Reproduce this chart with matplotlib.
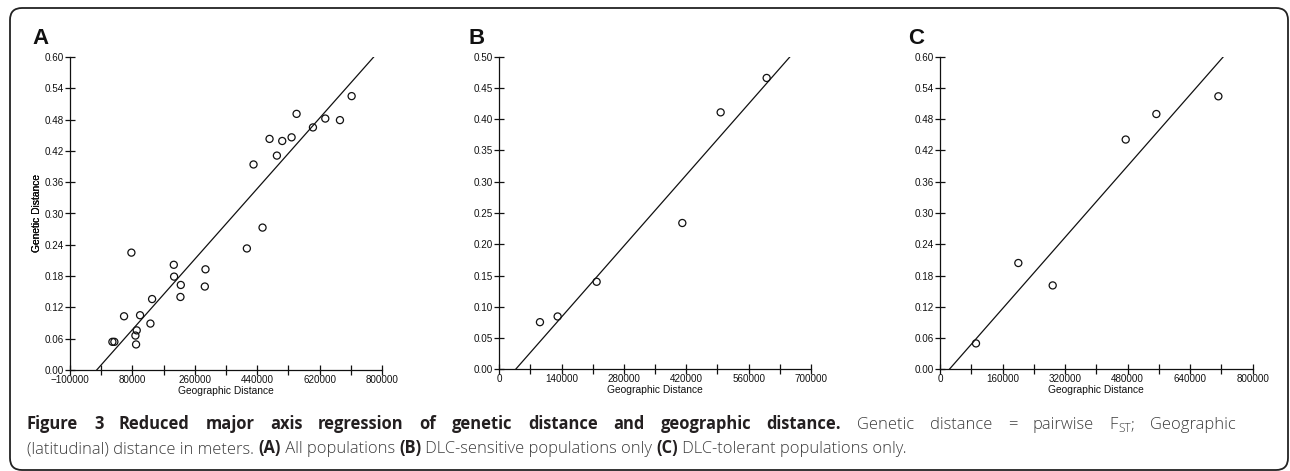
import matplotlib
matplotlib.use("Agg")
import matplotlib.pyplot as plt
from matplotlib.patches import FancyBboxPatch
from matplotlib.ticker import FixedLocator, FormatStrFormatter, FuncFormatter, MultipleLocator
import numpy as np

# ---------------- data ----------------
# Panel A: all populations
a_geo = [429400, 475600, 496800, 512200, 539200, 553600, 600800, 636400, 678700, 712400,
         455400, 410200, 77100, 199400, 200300, 219600, 218600, 290800, 288900, 136800,
         55900, 102100, 132000, 92500, 88700, 90600, 22300, 28000]
a_gen = [0.394, 0.443, 0.411, 0.439, 0.446, 0.491, 0.465, 0.482, 0.479, 0.525,
         0.273, 0.233, 0.225, 0.2017, 0.179, 0.163, 0.140, 0.193, 0.160, 0.136,
         0.103, 0.105, 0.089, 0.076, 0.066, 0.049, 0.054, 0.054]
# Panel B: DLC-sensitive
b_geo = [600400, 497100, 411000, 218600, 131000, 91300]
b_gen = [0.466, 0.411, 0.234, 0.140, 0.0845, 0.0754]
# Panel C: DLC-tolerant
c_geo = [712200, 553500, 475100, 200400, 288300, 92100]
c_gen = [0.524, 0.490, 0.441, 0.204, 0.161, 0.0497]

# RMA regression lines (slope, intercept)
rma_slope = [7.509e-7, 8.114e-7, 8.558e-7]
rma_intercept = [0.01727, -0.02978, -0.02045]

panel_letters = ["A", "B", "C"]
x_limits = [(-100000, 800000), (0, 700000), (0, 800000)]
x_label_step = [180000, 140000, 160000]
y_limits = [(0, 0.60), (0, 0.50), (0, 0.60)]
y_step = [0.06, 0.05, 0.06]
x_label = "Geographic Distance"
y_label = "Genetic Distance"

caption_line1_bold = "Figure 3 Reduced major axis regression of genetic distance and geographic distance."
caption_line1_rest = ["Genetic", "distance", "=", "pairwise", "F_ST;", "Geographic"]
caption_line2 = [("(latitudinal) distance in meters. ", "light"),
                 ("(A)", "bold"),
                 (" All populations ", "light"),
                 ("(B)", "bold"),
                 (" DLC-sensitive populations only ", "light"),
                 ("(C)", "bold"),
                 (" DLC-tolerant populations only.", "light")]

# ---------------- figure ----------------
W, H = 1290, 471
fig = plt.figure(figsize=(W / 100, H / 100), dpi=100)
plt.rcParams['font.family'] = ['Liberation Sans', 'DejaVu Sans']

# border
border = FancyBboxPatch((10 / 100, 1 / 100), 1278 / 100, 462 / 100,
                        boxstyle="round,pad=0,rounding_size=0.12",
                        transform=fig.dpi_scale_trans, fill=False,
                        edgecolor="#222222", linewidth=1.3, clip_on=False)
fig.patches.append(border)

# axes rectangles in pixels: left, right, top, bottom
rects = [(70, 382, 57, 370), (499.3, 811, 56.7, 369.3), (940, 1252.7, 56.7, 369.3)]
datasets = [(a_geo, a_gen), (b_geo, b_gen), (c_geo, c_gen)]
letter_x = [32, 469, 908]


def xfmt(v, p):
    v = int(round(v))
    return str(v) if v >= 0 else "\u2212" + str(-v)


tick_fs = 7.1
for i in range(3):
    l, r, t, b = rects[i]
    ax = fig.add_axes([l / W, (H - b) / H, (r - l) / W, (b - t) / H])
    gx, gy = datasets[i]
    ax.scatter(gx, gy, s=26, facecolors="none", edgecolors="#111111", linewidths=0.9, zorder=3)
    ymax = y_limits[i][1]
    m, c0 = rma_slope[i], rma_intercept[i]
    xs = np.array([(0 - c0) / m, (ymax - c0) / m])
    ax.plot(xs, m * xs + c0, color="#111111", linewidth=0.9)
    x0, x1 = x_limits[i]
    ax.set_xlim(x0, x1)
    ax.set_ylim(*y_limits[i])
    for s in ["top", "right"]:
        ax.spines[s].set_visible(False)
    for s in ["left", "bottom"]:
        ax.spines[s].set_linewidth(0.9)
        ax.spines[s].set_color("#111111")
    step = x_label_step[i]
    ax.xaxis.set_major_locator(FixedLocator(np.arange(x0, x1 + 1, step)))
    ax.xaxis.set_minor_locator(FixedLocator(np.arange(x0 + step / 2, x1, step)))
    ax.yaxis.set_major_locator(MultipleLocator(y_step[i]))
    ax.xaxis.set_major_formatter(FuncFormatter(xfmt))
    ax.yaxis.set_major_formatter(FormatStrFormatter("%.2f"))
    ax.tick_params(axis="both", which="both", direction="inout", length=6.5, width=0.9,
                   color="#111111", labelsize=tick_fs, labelcolor="#111111")
    ax.tick_params(axis="x", which="major", pad=0.0)
    ax.tick_params(axis="y", which="major", pad=1.2)
    ax.set_xlabel(x_label, fontsize=tick_fs + 0.3, labelpad=1.0, color="#111111")
    ax.set_ylabel(y_label, fontsize=tick_fs + 0.3, color="#111111")
    ax.yaxis.set_label_coords(-(l - 42) / (r - l), 0.5)
    ax.patch.set_alpha(0)
    fig.text(letter_x[i] / W, (H - 44) / H, panel_letters[i], fontsize=16, fontweight="bold",
             ha="left", va="baseline", color="#111111")

# caption with mixed runs
renderer = fig.canvas.get_renderer()
cap_fs = {"bold": 11.9, "light": 11.9}
cap_family = ['Open Sans', 'DejaVu Sans']
CAP_C = {"bold": "#231f20", "light": "#3c3c3c"}


def put(txt, x, baseline, wt, sf=1.0, drop=0.0, measure_only=False):
    tt = fig.text(x / W, (H - baseline - drop) / H, txt, fontsize=cap_fs[wt] * sf, fontweight=wt,
                  family=cap_family, ha="left", va="baseline", color=CAP_C[wt])
    w = tt.get_window_extent(renderer=renderer).width
    if measure_only:
        tt.remove()
    return w


def word_pieces(word, wt):
    if "_" in word:
        base, rest = word.split("_", 1)
        sub = rest.rstrip(";,.")
        tail = rest[len(sub):]
        pieces = [(base, wt, 1.0, 0.0), (sub, wt, 0.72, 3.5)]
        if tail:
            pieces.append((tail, wt, 1.0, 0.0))
        return pieces
    return [(word, wt, 1.0, 0.0)]


# line 1: justified between left and right margins (as typeset)
left_x, right_x = 27, 1236
words = [word_pieces(w, "bold") for w in caption_line1_bold.split(" ")]
words += [word_pieces(w, "light") for w in caption_line1_rest]
widths = []
for wp in words:
    widths.append(sum(put(t, 0, 0, wt, sf, dr, measure_only=True) for t, wt, sf, dr in wp))
gap = (right_x - left_x - sum(widths)) / (len(words) - 1)
x = left_x
for wp, ww in zip(words, widths):
    xx = x
    for t, wt, sf, dr in wp:
        xx += put(t, xx, 429, wt, sf, dr)
    x += ww + gap

# line 2: natural spacing
x = left_x
for txt, wt in caption_line2:
    x += put(txt, x, 453, wt)

fig.savefig("out.png", dpi=100)
